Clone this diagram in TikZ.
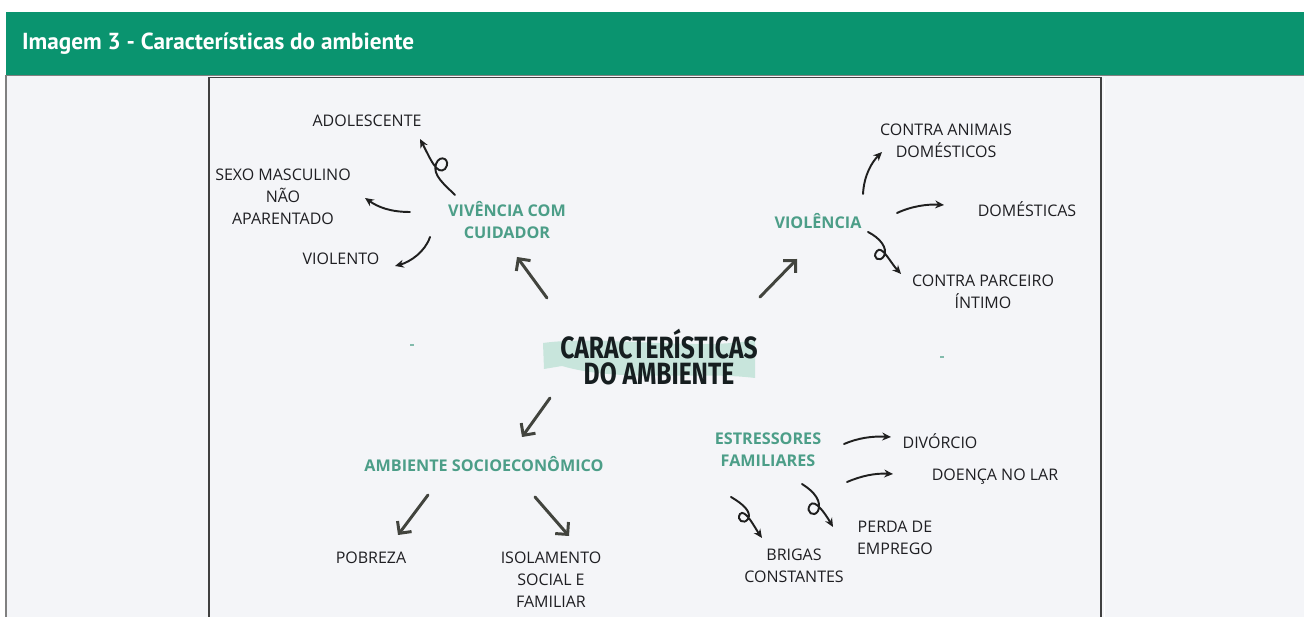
\documentclass[tikz,border=0pt]{standalone}
\usepackage{fontspec}
\setmainfont{Open Sans}
\newfontfamily\headfont{PT Sans}
\newfontfamily\titlefont{Fira Sans}[FakeStretch=0.8]
\usetikzlibrary{arrows.meta}
\definecolor{headgreen}{RGB}{10,148,111}
\definecolor{panel}{RGB}{244,245,248}
\definecolor{topicteal}{RGB}{76,158,136}
\definecolor{bandteal}{RGB}{200,229,220}
\definecolor{inkgray}{RGB}{30,30,34}
\definecolor{arrowgray}{RGB}{66,68,62}
\definecolor{titleink}{RGB}{22,30,32}

\begin{document}
\begin{tikzpicture}[x=0.02cm, y=-0.02cm,
    every node/.style={font=\fontsize{9.1}{12.5}\selectfont, text=inkgray, align=center, inner sep=1pt},
    topic/.style={font=\fontsize{9.2}{12.5}\selectfont\bfseries, text=topicteal},
    bigarrow/.style={draw=arrowgray, line width=1.7pt, line cap=round,
      -{Straight Barb[length=5pt,width=10pt,line width=1.7pt]}},
    curly/.style={draw=black!88, line width=1.1pt, line cap=round,
      -{Stealth[length=5pt,width=4.5pt]}}]
    \useasboundingbox (0,0) rectangle (1304,617);
    % page, header bar and frames
    \fill[white] (0,0) rectangle (1304,617);
    \fill[panel] (6,75) rectangle (1304,617);
    \fill[headgreen] (6,12) rectangle (1304,75);
    \node[anchor=west, text=white, font=\headfont\bfseries\fontsize{13.2}{15}\selectfont] (head) at (20,44) {Imagem 3 - Características do ambiente};
    \draw[gray, line width=0.8pt] (6,75.5) -- (1304,75.5);
    \draw[gray, line width=0.6pt] (6,75) -- (6,617);
    \draw[black!75, line width=0.8pt] (209,617) -- (209,77.5) -- (1101,77.5) -- (1101,617);
    \draw[white, line width=0.5pt] (1104,78) -- (1104,617);

    % central title on a brush band
    \fill[bandteal] (543,343) .. controls (600,335) and (700,351) .. (755,340)
      -- (755,378) .. controls (700,371) and (620,383) .. (562,366) -- (544,369) -- cycle;
    \node[text=titleink, font=\titlefont\bfseries\fontsize{17.5}{14.5}\selectfont] (main) at (659,357) {CARACTERÍSTICAS\\DO AMBIENTE};

    % topics
    \node[topic] (viv) at (507,220) {VIVÊNCIA COM\\CUIDADOR};
    \node[topic] (viol) at (818,221) {VIOLÊNCIA};
    \node[topic] (socio) at (484,464) {AMBIENTE SOCIOECONÔMICO};
    \node[topic] (estr) at (768,450) {ESTRESSORES\\FAMILIARES};

    % leaves
    \node (adol) at (367,121) {ADOLESCENTE};
    \node (sexo) at (283,197) {SEXO MASCULINO\\NÃO\\APARENTADO};
    \node (violento) at (341,259) {VIOLENTO};
    \node (animais) at (946,141) {CONTRA ANIMAIS\\DOMÉSTICOS};
    \node (domest) at (1027,209) {DOMÉSTICAS};
    \node (parceiro) at (983,292) {CONTRA PARCEIRO\\ÍNTIMO};
    \node (pobreza) at (371,558) {POBREZA};
    \node (isol) at (551,580) {ISOLAMENTO\\SOCIAL E\\FAMILIAR};
    \node (divorcio) at (940,441) {DIVÓRCIO};
    \node (doenca) at (995,477) {DOENÇA NO LAR};
    \node (perda) at (895,538) {PERDA DE\\EMPREGO};
    \node (brigas) at (794,566) {BRIGAS\\CONSTANTES};

    % arrow ends
    \coordinate (mainNW) at (547,298);  \coordinate (vivIn) at (517,257);
    \coordinate (mainNE) at (760,297);  \coordinate (violIn) at (797,259);
    \coordinate (mainSW) at (550,398);  \coordinate (socioIn) at (522,437);
    \coordinate (socioL) at (428,495);  \coordinate (pobIn) at (398,535);
    \coordinate (socioR) at (535,497);  \coordinate (isolIn) at (569,536);
    \coordinate (vivA) at (455,195);    \coordinate (adolIn) at (420,139);
    \coordinate (vivB) at (410,212);    \coordinate (sexoIn) at (365,198);
    \coordinate (vivC) at (430,237);    \coordinate (violentoIn) at (395,266);
    \coordinate (violA) at (863,194);   \coordinate (animaisIn) at (882,152);
    \coordinate (violB) at (897,213);   \coordinate (domestIn) at (944,205);
    \coordinate (violC) at (868,232);   \coordinate (parceiroIn) at (901,274);
    \coordinate (estrA) at (844,444);   \coordinate (divorcioIn) at (891,437);
    \coordinate (estrB) at (847,482);   \coordinate (doencaIn) at (893,474);
    \coordinate (estrC) at (802,484);   \coordinate (perdaIn) at (833,527);
    \coordinate (estrD) at (731,497);   \coordinate (brigasIn) at (762,538);

    % main arrows
    \draw[bigarrow] (mainNW) -- (vivIn);
    \draw[bigarrow] (mainNE) -- (violIn);
    \draw[bigarrow] (mainSW) -- (socioIn);
    \draw[bigarrow] (socioL) -- (pobIn);
    \draw[bigarrow] (socioR) -- (isolIn);

    % hand drawn arrows
    \draw[curly] (vivA) .. controls (445,185) and (432,175) .. (436,164)
      .. controls (440,153) and (452,160) .. (445,169)
      .. controls (437,176) and (430,158) .. (adolIn);
    \draw[curly] (vivB) .. controls (390,212) and (378,207) .. (sexoIn);
    \draw[curly] (vivC) .. controls (425,252) and (410,262) .. (violentoIn);
    \draw[curly] (violA) .. controls (864,175) and (872,162) .. (animaisIn);
    \draw[curly] (violB) .. controls (912,206) and (928,204) .. (domestIn);
    \draw[curly] (violC) .. controls (880,238) and (888,248) .. (884,256)
      .. controls (880,263) and (871,258) .. (877,251)
      .. controls (882,245) and (890,262) .. (parceiroIn);
    \draw[curly] (estrA) .. controls (858,438) and (872,436) .. (divorcioIn);
    \draw[curly] (estrB) .. controls (861,476) and (875,473) .. (doencaIn);
    \draw[curly] (estrC) .. controls (815,492) and (822,502) .. (818,511)
      .. controls (814,518) and (805,512) .. (810,505)
      .. controls (815,498) and (826,515) .. (perdaIn);
    \draw[curly] (estrD) .. controls (743,504) and (752,512) .. (748,519)
      .. controls (744,525) and (736,520) .. (740,514)
      .. controls (745,508) and (755,528) .. (brigasIn);

    % stray marks
    \draw[topicteal!70, line width=0.8pt] (410,345) -- (414,345);
    \draw[topicteal!70, line width=0.8pt] (940,357) -- (944,357);
  \end{tikzpicture}
\end{document}
